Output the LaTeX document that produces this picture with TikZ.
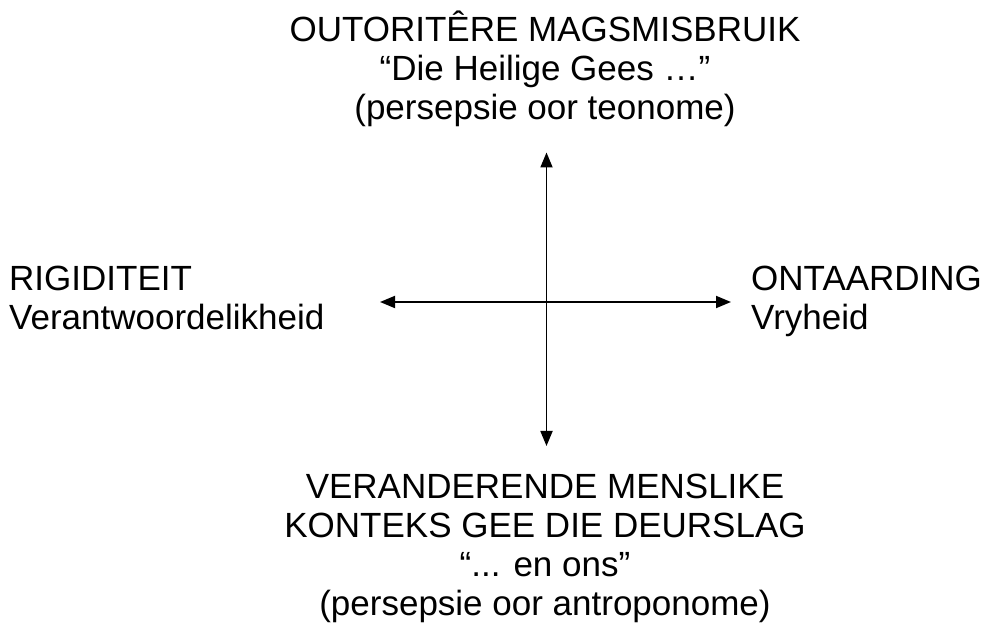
\documentclass[tikz,border=0pt]{standalone}
\usepackage{fontspec}
\setmainfont{Liberation Sans}
\usetikzlibrary{arrows.meta}
\begin{document}
\begin{tikzpicture}[x=1pt,y=1pt,
  lbl/.style={inner sep=0pt,font=\fontsize{35}{39}\selectfont},
  axis/.style={line width=1.8pt,{Triangle[length=15pt,width=12pt]}-{Triangle[length=15pt,width=12pt]}}]
\useasboundingbox (0,0) rectangle (990,624);
\coordinate (vt) at (546.5,471.5);
\coordinate (vb) at (546.5,178);
\coordinate (hl) at (380,322);
\coordinate (hr) at (731,322);
\draw[axis] (vt) -- (vb);
\draw[axis] (hl) -- (hr);
\node[lbl,align=center,anchor=base] (top) at (545,504) {OUTORITÊRE MAGSMISBRUIK\\“Die Heilige Gees …”\\(persepsie oor teonome)};
\node[lbl,align=left,anchor=base west] (left) at (9,294) {RIGIDITEIT\\Verantwoordelikheid};
\node[lbl,align=left,anchor=base west] (right) at (751,294) {ONTAARDING\\Vryheid};
\node[lbl,align=center,anchor=base] (bot) at (545,9) {VERANDERENDE MENSLIKE\\KONTEKS GEE DIE DEURSLAG\\“... en ons”\\(persepsie oor antroponome)};
\end{tikzpicture}
\end{document}
